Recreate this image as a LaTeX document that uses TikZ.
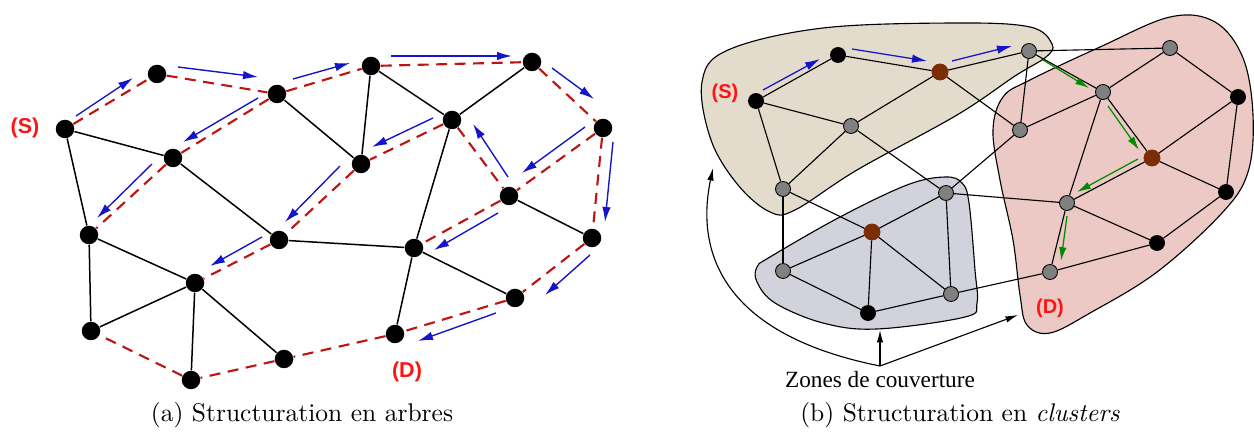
\documentclass[tikz,border=0pt]{standalone}
\usepackage{fontspec}
\newfontfamily\lsans{Liberation Sans}
\newfontfamily\lserif{Liberation Serif}
\usetikzlibrary{arrows.meta}
\definecolor{dred}{RGB}{190,20,20}
\definecolor{ablue}{RGB}{20,20,200}
\definecolor{agreen}{RGB}{0,140,0}
\definecolor{lred}{RGB}{255,20,20}
\definecolor{tanfill}{RGB}{227,219,204}
\definecolor{pinkfill}{RGB}{236,201,197}
\definecolor{bgfill}{RGB}{209,210,220}
\definecolor{ngray}{RGB}{128,128,128}
\definecolor{nbrown}{RGB}{125,45,5}
\begin{document}
\begin{tikzpicture}[x=0.4pt,y=-0.4pt,
  edgeA/.style={line width=0.6pt},
  dashA/.style={line width=0.85pt, draw=dred, dash pattern=on 4.4pt off 3pt},
  arrA/.style={line width=0.55pt, draw=ablue, -{Latex[length=6pt,width=3.4pt]}},
  arrG/.style={line width=0.5pt, draw=agreen, -{Latex[length=5.5pt,width=3pt]}},
  arrK/.style={line width=0.45pt, draw=black, -{Latex[length=5pt,width=2.6pt]}},
  edgeB/.style={line width=0.45pt},
  blob/.style={draw=black, line width=0.45pt},
  nA/.style={circle, fill=black, inner sep=0pt, minimum size=7.4pt},
  nB/.style={circle, draw=black, line width=0.35pt, inner sep=0pt, minimum size=6pt},
  gB/.style={nB, fill=ngray},
  kB/.style={nB, fill=black},
  rB/.style={nB, fill=nbrown, draw=nbrown, minimum size=6.4pt},
  lab/.style={font=\lsans\bfseries\fontsize{8.6}{10}\selectfont, text=lred, inner sep=0pt},
  labb/.style={font=\lsans\bfseries\fontsize{8}{10}\selectfont, text=lred, inner sep=0pt},
  capt/.style={font=\fontsize{10.2}{12}\selectfont, inner sep=0pt}
]
\useasboundingbox (0,0) rectangle (1254,432);

% ================= (a) =================
\node[nA] (a1) at (65,129) {};
\node[nA] (a2) at (157,74) {};
\node[nA] (a3) at (277,94) {};
\node[nA] (a4) at (371,66) {};
\node[nA] (a5) at (532,62) {};
\node[nA] (a6) at (452,120) {};
\node[nA] (a7) at (173,158) {};
\node[nA] (a8) at (361,164) {};
\node[nA] (a9) at (603,128) {};
\node[nA] (a10) at (509,196) {};
\node[nA] (a11) at (89,235) {};
\node[nA] (a12) at (279,240) {};
\node[nA] (a13) at (414,248) {};
\node[nA] (a14) at (592,238) {};
\node[nA] (a15) at (195,283) {};
\node[nA] (a16) at (515,298) {};
\node[nA] (a17) at (91,331) {};
\node[nA] (a18) at (395,334) {};
\node[nA] (a19) at (284,359) {};
\node[nA] (a20) at (191,380) {};

\foreach \p/\q in {a1/a7,a1/a11,a7/a12,a3/a8,a4/a8,a4/a6,a6/a5,a6/a13,a10/a14,a12/a13,a11/a15,a15/a17,a11/a17,a15/a20,a15/a19,a13/a18,a13/a16}
  \draw[edgeA] (\p) -- (\q);

\foreach \p/\q in {a1/a2,a2/a3,a3/a4,a4/a5,a5/a9,a9/a14,a14/a16,a16/a18,a18/a19,a19/a20,a20/a17,a3/a7,a7/a11,a6/a8,a8/a12,a12/a15,a6/a10,a9/a10,a10/a13}
  \draw[dashA] (\p) -- (\q);

% blue arrows (offset beside the dashed path)
\foreach \sx/\sy/\ex/\ey [count=\i] in {76/116/133/78, 178/67/258/77, 293/79/350/63, 391/56/512/56,
   552/68/594/99, 613/142/605/222, 590/255/545/295, 496/313/418/341, 585/127/522/173,
   508/177/473/124, 433/118/372/147, 258/98/183/142, 152/164/97/218, 340/166/285/222,
   262/237/210/266, 498/213/434/250}{
  \coordinate (as\i) at (\sx,\sy);
  \coordinate (ae\i) at (\ex,\ey);
  \draw[arrA] (as\i) -- (ae\i);
}

\node[lab] (sA) at (25,128) {(S)};
\node[lab] (dA) at (407,372) {(D)};
\node[capt] (capA) at (302,415) {(a) Structuration en arbres};

% ================= (b) =================
\draw[blob, fill=tanfill] plot[smooth cycle, tension=0.6] coordinates {
  (1052,44) (1030,27) (957,23) (823,28) (728,50) (702,82) (711,140) (738,185)
  (770,212) (795,210) (857,170) (957,115) (1015,76) (1046,57)};
\draw[blob, fill=pinkfill] plot[smooth cycle, tension=0.6] coordinates {
  (1170,17) (1215,22) (1243,58) (1253,115) (1248,172) (1222,213) (1157,272)
  (1090,313) (1050,333) (1027,325) (1020,295) (1013,240) (1000,180) (993,130)
  (1003,97) (1030,80) (1100,47)};
\draw[blob, fill=bgfill] plot[smooth cycle, tension=0.6] coordinates {
  (757,267) (770,257) (840,217) (907,185) (945,177) (962,183) (969,203)
  (975,270) (977,303) (965,317) (877,329) (823,323) (775,303) (757,282)};

\node[kB] (b1) at (756,101) {};
\node[kB] (b2) at (838,55) {};
\node[rB] (b3) at (940,72) {};
\node[gB] (b4) at (1029,51) {};
\node[gB] (b5) at (851,126) {};
\node[gB] (b6) at (783,189) {};
\node[gB] (b7) at (1020,130) {};
\node[gB] (b8) at (946,193) {};
\node[gB] (b9) at (1170,48) {};
\node[gB] (b10) at (1103,92) {};
\node[kB] (b11) at (1238,97) {};
\node[rB] (b12) at (1152,158) {};
\node[kB] (b13) at (1226,192) {};
\node[gB] (b14) at (1067,203) {};
\node[kB] (b15) at (1157,243) {};
\node[rB] (b16) at (872,232) {};
\node[gB] (b17) at (783,271) {};
\node[gB] (b18) at (951,294) {};
\node[kB] (b19) at (868,313) {};
\node[gB] (b20) at (1050,272) {};

\foreach \p/\q in {b1/b2,b2/b3,b3/b4,b1/b5,b1/b6,b5/b3,b5/b6,b5/b8,b3/b7,b4/b7,b7/b8,b4/b9,
   b4/b10,b7/b10,b10/b9,b9/b11,b10/b12,b10/b14,b11/b12,b11/b13,b12/b13,b12/b14,b14/b15,
   b13/b15,b14/b20,b15/b20,b8/b14,b6/b16,b6/b17,b16/b8,b16/b17,b16/b19,b16/b18,b17/b19,
   b19/b18,b8/b18,b18/b20}
  \draw[edgeB] (\p) -- (\q);

% blue arrows (b)
\foreach \sx/\sy/\ex/\ey [count=\i] in {763/90/820/59, 852/49/927/61, 952/61/1012/46}{
  \coordinate (bs\i) at (\sx,\sy);
  \coordinate (be\i) at (\ex,\ey);
  \draw[arrA, line width=0.5pt] (bs\i) -- (be\i);
}
% green arrows (b)
\foreach \sx/\sy/\ex/\ey [count=\i] in {1043/60/1089/88, 1108/106/1139/150, 1138/159/1077/192, 1067/216/1061/261}{
  \coordinate (gs\i) at (\sx,\sy);
  \coordinate (ge\i) at (\ex,\ey);
  \draw[arrG] (gs\i) -- (ge\i);
}

\node[labb] (sB) at (725,93) {(S)};
\node[labb] (dB) at (1050,308) {(D)};

% coverage-zone annotation
\node[font=\lserif\fontsize{9.3}{11}\selectfont, inner sep=0pt] (zt) at (880,380) {Zones de couverture};
\coordinate (zb) at (880,366);
\coordinate (zu) at (880,330);
\coordinate (zr) at (1018,315);
\coordinate (zl) at (713,168);
\draw[arrK] (zb) -- (zu);
\draw[arrK] (zb) -- (zr);
\draw[arrK] (zb) .. controls (700,330) and (700,230) .. (zl);

\node[capt] (capB) at (960,415) {(b) Structuration en \textit{clusters}};
\end{tikzpicture}
\end{document}
